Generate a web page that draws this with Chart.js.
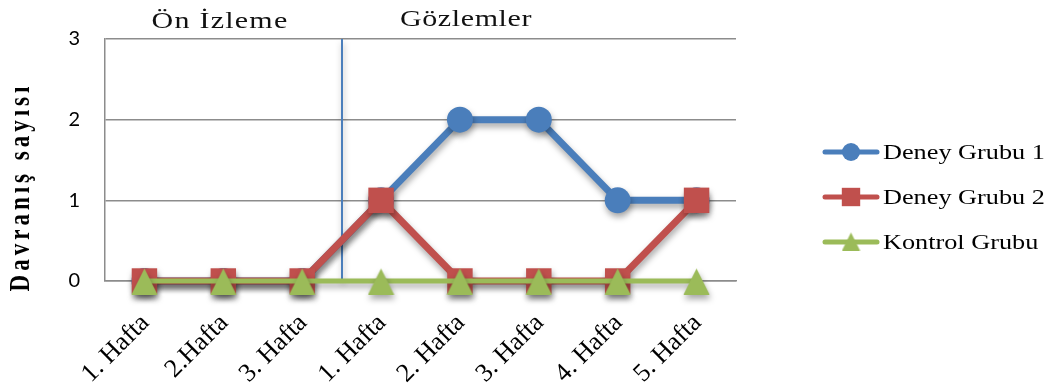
<!DOCTYPE html>
<html lang="tr">
<head>
<meta charset="utf-8">
<title>Davranış sayısı</title>
<script src="https://cdn.jsdelivr.net/npm/chart.js@4/dist/chart.umd.min.js"></script>
<style>
  html, body { margin: 0; padding: 0; background: #ffffff; }
  #wrap { width: 1055px; height: 389px; }
</style>
</head>
<body>
<div id="wrap"><canvas id="chart" width="1055" height="389"></canvas></div>
<script>
// Weeks: 3 baseline weeks, then 5 observation weeks
const categories = ['1. Hafta', '2.Hafta', '3. Hafta', '1. Hafta', '2. Hafta', '3. Hafta', '4. Hafta', '5. Hafta'];
const deneyGrubu1 = [0, 0, 0, 1, 2, 2, 1, 1];
const deneyGrubu2 = [0, 0, 0, 1, 0, 0, 0, 1];
const kontrolGrubu = [0, 0, 0, 0, 0, 0, 0, 0];
const yTicks = [0, 1, 2, 3];
const seriesNames = ['Deney Grubu 1', 'Deney Grubu 2', 'Kontrol Grubu'];
const phaseTitles = ['Ön İzleme', 'Gözlemler'];
const yTitle = 'Davranış sayısı';
const baselineWeeks = 3;

const BLUE = '#4a7ebb';
const RED = '#c0504d';
const GREEN = '#9bbb59';
const GRID = '#8c8c8c';
const SERIF = '"Liberation Serif", "Times New Roman", serif';
const WIDE = 1.25; // horizontal stretch used for the upright serif texts

// Triangle marker sitting slightly low on its point, like the Office style
function triangleMarker(size, color) {
  const c = document.createElement('canvas');
  c.width = size;
  c.height = size;
  const g = c.getContext('2d');
  g.fillStyle = color;
  g.beginPath();
  g.moveTo(size / 2, 1);
  g.lineTo(size - 0.5, size);
  g.lineTo(0.5, size);
  g.closePath();
  g.fill();
  return c;
}
const greenTriangle = triangleMarker(27, GREEN);
const greenTriangleSmall = triangleMarker(19, GREEN);

// Drop shadow under the series lines and markers
const shadowPlugin = {
  id: 'seriesShadow',
  beforeDatasetsDraw(chart) {
    const ctx = chart.ctx;
    ctx.save();
    ctx.shadowColor = 'rgba(0,0,0,0.35)';
    ctx.shadowBlur = 6;
    ctx.shadowOffsetX = 1;
    ctx.shadowOffsetY = 4;
  },
  afterDatasetsDraw(chart) {
    chart.ctx.restore();
  }
};

function drawText(ctx, text, x, y, opts) {
  ctx.save();
  ctx.translate(x, y);
  ctx.scale(opts.stretch || 1, 1);
  if (opts.rotate) ctx.rotate(opts.rotate);
  ctx.font = opts.font;
  ctx.fillStyle = opts.color || '#000';
  ctx.letterSpacing = opts.spacing || '0px';
  ctx.textAlign = opts.align || 'left';
  ctx.textBaseline = opts.baseline || 'alphabetic';
  ctx.fillText(text, 0, 0);
  ctx.restore();
}

// Phase divider, phase headings, axis texts and legend
const decorPlugin = {
  id: 'decor',
  beforeDatasetsDraw(chart) {
    const ctx = chart.ctx;
    const x = chart.scales.x;
    const area = chart.chartArea;
    const dx = (x.getPixelForValue(baselineWeeks - 1) + x.getPixelForValue(baselineWeeks)) / 2;
    ctx.save();
    ctx.strokeStyle = BLUE;
    ctx.lineWidth = 2;
    ctx.beginPath();
    ctx.moveTo(Math.round(dx), area.top);
    ctx.lineTo(Math.round(dx), area.bottom);
    ctx.stroke();
    ctx.restore();
  },
  afterDraw(chart) {
    const ctx = chart.ctx;
    const x = chart.scales.x;
    const area = chart.chartArea;

    // Phase headings
    drawText(ctx, phaseTitles[0], 220, 28, { font: '24px ' + SERIF, align: 'center', spacing: '1px', color: '#111', stretch: WIDE });
    drawText(ctx, phaseTitles[1], 466, 26, { font: '24px ' + SERIF, align: 'center', spacing: '0.5px', color: '#111', stretch: WIDE });

    // Y-axis title
    drawText(ctx, yTitle, 22, 187, {
      font: 'bold 23px ' + SERIF, align: 'center', baseline: 'middle',
      rotate: -Math.PI / 2, spacing: '4px', stretch: WIDE
    });

    // Category labels, slanted at 45 degrees
    chart.data.labels.forEach((lab, i) => {
      const px = x.getPixelForValue(i);
      drawText(ctx, lab, px + 1, area.bottom + 38, {
        font: '26px ' + SERIF, align: 'right', baseline: 'middle', rotate: -Math.PI / 4
      });
    });

    // Legend
    const rows = [152, 197, 242];
    chart.data.datasets.forEach((ds, i) => {
      const y = rows[i];
      ctx.save();
      ctx.strokeStyle = ds.borderColor;
      ctx.lineWidth = 5;
      ctx.lineCap = 'round';
      ctx.beginPath();
      ctx.moveTo(825, y);
      ctx.lineTo(877, y);
      ctx.stroke();
      ctx.fillStyle = ds.pointBackgroundColor;
      const style = ds.pointStyle === greenTriangle ? greenTriangleSmall : ds.pointStyle;
      Chart.helpers.drawPoint(ctx, {
        pointStyle: style,
        radius: ds.pointStyle === 'rect' ? 13 : 9,
        borderWidth: 0,
        rotation: 0
      }, 851, style === greenTriangleSmall ? y - 1 : y);
      ctx.restore();
      drawText(ctx, ds.label, 883, y + 1, { font: '21px ' + SERIF, baseline: 'middle', stretch: WIDE });
    });
  }
};

const ctx = document.getElementById('chart').getContext('2d');
new Chart(ctx, {
  type: 'line',
  data: {
    labels: categories,
    datasets: [
      {
        label: seriesNames[0],
        data: deneyGrubu1,
        borderColor: BLUE,
        backgroundColor: BLUE,
        pointBackgroundColor: BLUE,
        pointBorderColor: BLUE,
        borderWidth: 7,
        pointStyle: 'circle',
        pointRadius: 13,
        pointBorderWidth: 0,
        order: 3,
        clip: false
      },
      {
        label: seriesNames[1],
        data: deneyGrubu2,
        borderColor: RED,
        backgroundColor: RED,
        pointBackgroundColor: RED,
        pointBorderColor: RED,
        borderWidth: 7,
        pointStyle: 'rect',
        pointRadius: 18,
        pointBorderWidth: 0,
        order: 2,
        clip: false
      },
      {
        label: seriesNames[2],
        data: kontrolGrubu,
        borderColor: GREEN,
        backgroundColor: GREEN,
        pointBackgroundColor: GREEN,
        pointBorderColor: GREEN,
        borderWidth: 5,
        pointStyle: greenTriangle,
        pointRadius: 14,
        pointBorderWidth: 0,
        order: 1,
        clip: false
      }
    ]
  },
  options: {
    responsive: false,
    animation: false,
    devicePixelRatio: 1,
    layout: { padding: { left: 0, top: 39, right: 319, bottom: 0 } },
    plugins: {
      legend: { display: false },
      tooltip: { enabled: false }
    },
    elements: { line: { tension: 0 } },
    scales: {
      x: {
        offset: true,
        grid: { display: false, drawTicks: false },
        border: { display: true, color: GRID, width: 1.5 },
        ticks: { display: false, autoSkip: false },
        afterFit(scale) { scale.height = 108; }
      },
      y: {
        min: 0,
        max: 3,
        afterBuildTicks(scale) { scale.ticks = yTicks.map(v => ({ value: v })); },
        grid: { color: GRID, lineWidth: 1.5, drawTicks: false },
        border: { display: true, color: GRID, width: 1.5 },
        ticks: {
          padding: 25,
          color: '#000',
          font: { family: 'Lato, "Open Sans", sans-serif', size: 20 }
        },
        afterFit(scale) { scale.width = 105; }
      }
    }
  },
  plugins: [shadowPlugin, decorPlugin]
});
</script>
</body>
</html>
